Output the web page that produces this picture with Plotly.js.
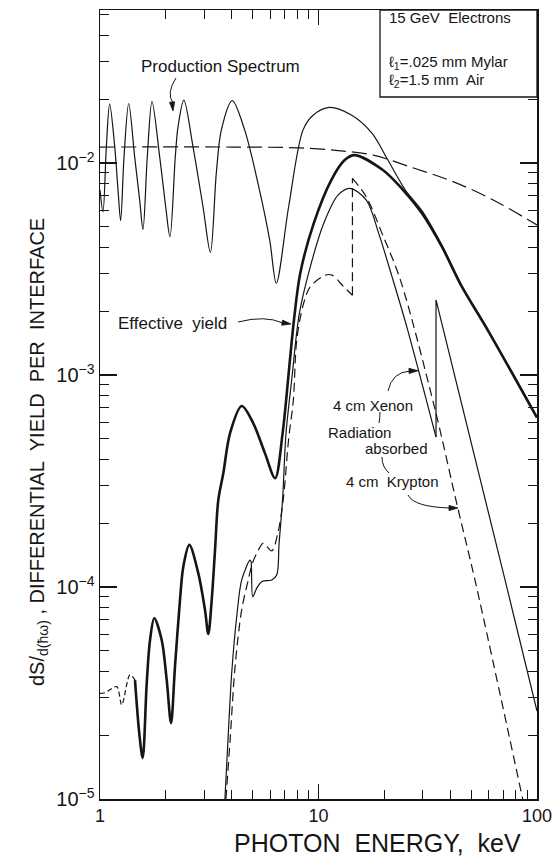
<!DOCTYPE html>
<html>
<head>
<meta charset="utf-8">
<script src="https://cdn.plot.ly/plotly-3.0.1.min.js"></script>
<style>html,body{margin:0;padding:0;background:#fff;}</style>
</head>
<body>
<div id="chart" style="width:552px;height:856px;"></div>
<script>
// ---------- data (photon energy in keV, yield per interface) ----------
const productionX = [1.000,1.032,1.069,1.107,1.168,1.209,1.243,1.288,1.353,1.441,1.519,1.573,1.646,1.730,1.876,1.998,2.090,2.211,2.275,2.42,2.666,2.961,3.20,3.406,3.591,4.03,4.595,5.285,5.98,6.41,7.3,8.49,9.44,11.2,14.2,17.6,20.6,24.97,29.8,36.7,45.3,59.5,100];
const productionY = [7.47e-3,5.89e-3,1.19e-2,1.90e-2,1.19e-2,7.47e-3,5.35e-3,1.07e-2,1.91e-2,1.07e-2,6.69e-3,4.86e-3,1.07e-2,1.95e-2,1.07e-2,6.22e-3,4.49e-3,1.07e-2,1.48e-2,1.98e-2,1.19e-2,6.22e-3,3.79e-3,8.94e-3,1.43e-2,1.97e-2,1.43e-2,8.02e-3,4.33e-3,2.71e-3,6.22e-3,1.43e-2,1.68e-2,1.83e-2,1.68e-2,1.38e-2,1.05e-2,7.46e-3,5.95e-3,4.10e-3,2.63e-3,1.64e-3,6.3e-4];

const envelopeX = [1,4,8,11.7,17.8,27,41,63,100];
const envelopeY = [1.19e-2,1.19e-2,1.18e-2,1.15e-2,1.09e-2,9.5e-3,8.2e-3,6.7e-3,5.1e-3];

const effLowX = [1.00,1.054,1.192,1.257,1.372,1.446];
const effLowY = [3.15e-5,3.17e-5,3.39e-5,2.78e-5,3.85e-5,3.64e-5];

const effX = [1.446,1.513,1.568,1.636,1.694,1.772,1.916,2.020,2.114,2.204,2.323,2.406,2.563,2.818,3.024,3.131,3.245,3.360,3.478,3.667,3.936,4.452,5.03,5.69,6.33,6.85,7.35,7.75,8.25,9.51,11.44,13.18,14.6,19.7,24.4,29.75,36.7,45.3,59.5,100];
const effY = [3.64e-5,2.04e-5,1.56e-5,3.51e-5,5.62e-5,7.12e-5,5.62e-5,3.64e-5,2.28e-5,4.21e-5,8.68e-5,1.247e-4,1.58e-4,1.16e-4,7.79e-5,6.00e-5,8.68e-5,1.49e-4,2.57e-4,3.44e-4,5.31e-4,7.14e-4,5.92e-4,4.27e-4,3.26e-4,5.31e-4,1.094e-3,1.88e-3,3.02e-3,5.19e-3,8.31e-3,1.033e-2,1.09e-2,9.27e-3,7.46e-3,5.79e-3,4.03e-3,2.61e-3,1.63e-3,6.3e-4];

const xenonX = [3.73,3.866,4.006,4.224,4.452,4.86,4.91,5.00,5.21,5.50,6.11,6.44,6.6,6.85,7.10,7.54,8.17,9.17,10.56,12.28,13.89,16.55,18.86,21.7,25.6,34.5];
const xenonY = [1.0e-5,2.04e-5,3.92e-5,7.24e-5,1.08e-4,1.34e-4,1.32e-4,9.0e-5,9.86e-5,1.06e-4,1.08e-4,1.14e-4,1.6e-4,2.6e-4,5.3e-4,9.5e-4,1.95e-3,3.24e-3,5.19e-3,7.06e-3,7.6e-3,6.69e-3,4.66e-3,2.91e-3,1.63e-3,5.1e-4];
const xenonTailX = [34.5,34.5,71.4,100];
const xenonTailY = [5.1e-4,2.26e-3,1.08e-4,2.6e-5];

const kryptonX = [3.77,3.94,4.15,4.45,4.77,4.98,5.30,5.59,6.11,6.51,6.9,7.3,7.67,7.95,8.55,9.17,10.74,11.53,13.04,14.3];
const kryptonY = [1.0e-5,1.9e-5,4.2e-5,7.8e-5,1.08e-4,1.29e-4,1.49e-4,1.61e-4,1.48e-4,1.79e-4,2.6e-4,5.0e-4,7.6e-4,1.46e-3,2.18e-3,2.61e-3,2.96e-3,2.96e-3,2.61e-3,2.38e-3];
const kryptonEdgeX = [14.3,14.3];
const kryptonEdgeY = [2.38e-3,8.47e-3];
const kryptonTailX = [14.3,16.55,19.53,23.7,33.9,43.4,52.0,86.0];
const kryptonTailY = [8.47e-3,6.93e-3,4.66e-3,2.81e-3,7.09e-4,2.36e-4,1.08e-4,1.0e-5];

const xTickVals = [1,10,100];
const xTickText = ['1','10','100'];
const yTickVals = [1e-5,1e-4,1e-3,1e-2];
const yTickText = ['10<sup>−5</sup>','10<sup>−4</sup>','10<sup>−3</sup>','10<sup>−2</sup>'];

// ---------- styling ----------
const FONT = '"Liberation Sans",Arial,sans-serif';
const INK = '#151515';

const xMinor = [], yMinor = [];
[1,10].forEach(d => { for (let k=2;k<=9;k++) xMinor.push(k*d); });
[1e-5,1e-4,1e-3,1e-2].forEach(d => { for (let k=2;k<=9;k++) yMinor.push(k*d); });

function line(x, y, width, dash, shape) {
  return {x: x, y: y, type: 'scatter', mode: 'lines', hoverinfo: 'skip',
    line: {color: INK, width: width, dash: dash || 'solid', shape: shape || 'spline', smoothing: 0.9}};
}

const traces = [
  line(envelopeX, envelopeY, 1.2, '15px,6px'),
  line(productionX, productionY, 1.2),
  line(effLowX, effLowY, 1.2, '5px,3px'),
  line(effX, effY, 2.6),
  line(xenonX, xenonY, 1.2),
  line(xenonTailX, xenonTailY, 1.2, 'solid', 'linear'),
  line(kryptonX, kryptonY, 1.2, '9px,5px'),
  line(kryptonEdgeX, kryptonEdgeY, 1.2, '9px,5px', 'linear'),
  line(kryptonTailX, kryptonTailY, 1.2, '9px,5px')
];

const axisCommon = {
  type: 'log', showgrid: false, zeroline: false,
  showline: true, linecolor: INK, linewidth: 1.5, mirror: 'ticks',
  ticks: 'inside', tickcolor: INK, tickwidth: 1.2,
  ticklabeloverflow: 'allow'
};

// helper: pixel position in the 552x856 picture -> paper coords (plot area 100..537 x 10..799)
const PX = px => (px - 100) / 437;
const PY = py => (799 - py) / 789;

function label(text, px, py, size, align) {
  return {text: text, x: PX(px), y: PY(py), xref: 'paper', yref: 'paper',
    showarrow: false, font: {family: FONT, size: size, color: INK},
    xanchor: align || 'center', yanchor: 'middle'};
}
function curve(p) { // quadratic stem in paper coords
  const s = 'M' + PX(p[0]) + ',' + PY(p[1]) + ' Q' + PX(p[2]) + ',' + PY(p[3]) + ' ' + PX(p[4]) + ',' + PY(p[5]);
  return {type: 'path', path: s, xref: 'paper', yref: 'paper', line: {color: INK, width: 1}, layer: 'above'};
}
function arrowHead(hx, hy, tx, ty) { // filled narrow triangle pointing from (tx,ty) to (hx,hy)
  const dx = hx - tx, dy = hy - ty, n = Math.hypot(dx, dy), ux = dx / n, uy = dy / n;
  const L = 9, W = 2.6;
  const bx = hx - ux * L, by = hy - uy * L;
  const p1 = [bx - uy * W, by + ux * W], p2 = [bx + uy * W, by - ux * W];
  const s = 'M' + PX(hx) + ',' + PY(hy) + ' L' + PX(p1[0]) + ',' + PY(p1[1]) + ' L' + PX(p2[0]) + ',' + PY(p2[1]) + ' Z';
  return {type: 'path', path: s, xref: 'paper', yref: 'paper', fillcolor: INK, line: {color: INK, width: 0.8}, layer: 'above'};
}

const layout = {
  width: 552, height: 856,
  margin: {l: 100, r: 15, t: 10, b: 57},
  paper_bgcolor: '#fff', plot_bgcolor: '#fff',
  font: {family: FONT, color: INK},
  showlegend: false,
  xaxis: Object.assign({}, axisCommon, {
    range: [0, 2], tickvals: xTickVals, ticktext: xTickText, ticklen: 15,
    tickfont: {family: FONT, size: 18, color: INK},
    minor: {tickvals: xMinor, ticks: 'inside', ticklen: 9, tickwidth: 1, tickcolor: INK, showgrid: false}
  }),
  yaxis: Object.assign({}, axisCommon, {
    range: [-5, -1.278], tickvals: yTickVals, ticktext: yTickText, ticklen: 17,
    tickfont: {family: FONT, size: 20, color: INK},
    minor: {tickvals: yMinor, ticks: 'inside', ticklen: 9, tickwidth: 1, tickcolor: INK, showgrid: false}
  }),
  shapes: [
    {type: 'rect', xref: 'paper', yref: 'paper', x0: PX(380), x1: 1, y0: PY(97), y1: 1,
     fillcolor: '#fff', line: {color: INK, width: 1.3}, layer: 'above'},
    curve([176, 78, 166, 93, 173, 103]),
    curve([238, 322, 265, 315, 283, 323]),
    curve([388, 391, 392, 372, 410, 371]),
    curve([380, 412, 380, 418, 379, 423]),
    curve([382, 457, 382, 467, 389, 473]),
    curve([408, 495, 414, 507, 450, 508]),
    arrowHead(173, 111, 172, 101),
    arrowHead(291, 324, 281, 322.5),
    arrowHead(418, 370.7, 408, 371),
    arrowHead(458, 508, 448, 508)
  ],
  annotations: [
    label('Production Spectrum', 220, 66, 17),
    label('Effective  yield', 172, 323, 17),
    label('4 cm Xenon', 373, 405, 15),
    label('Radiation', 359, 432, 15),
    label('absorbed', 396, 448, 15),
    label('4 cm  Krypton', 392, 482, 15),
    label('15 GeV  Electrons', 387, 17, 15, 'left'),
    label('ℓ<sub>1</sub>=.025 mm Mylar', 387, 62, 15, 'left'),
    label('ℓ<sub>2</sub>=1.5 mm  Air', 387, 81, 15, 'left'),
    {text: 'PHOTON  ENERGY,  keV', x: PX(377), y: PY(843), xref: 'paper', yref: 'paper',
     showarrow: false, font: {family: FONT, size: 25, color: INK}, xanchor: 'center', yanchor: 'middle'},
    {text: 'dS/<sub>d(ħω)</sub> , DIFFERENTIAL  YIELD  PER  INTERFACE', x: PX(38), y: PY(452),
     xref: 'paper', yref: 'paper', textangle: -90,
     showarrow: false, font: {family: FONT, size: 20, color: INK}, xanchor: 'center', yanchor: 'middle'}
  ]
};

Plotly.newPlot('chart', traces, layout, {displayModeBar: false, staticPlot: true});
</script>
</body>
</html>
